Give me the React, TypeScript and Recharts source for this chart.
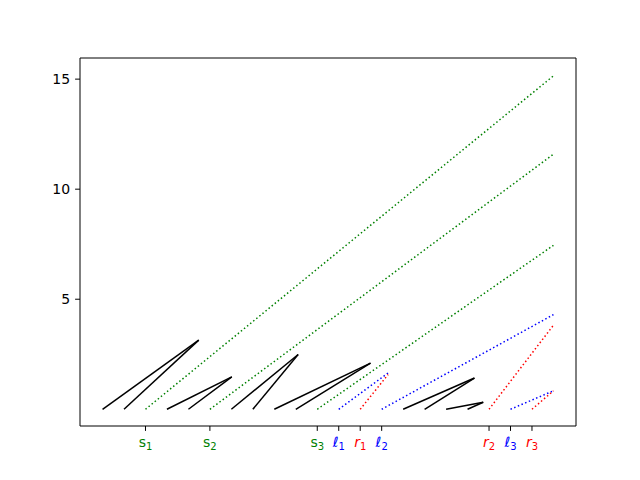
import React from 'react';
import { ComposedChart, Line, XAxis, YAxis, ReferenceLine } from 'recharts';

// black wedges: two starting points on the baseline joined to one apex
const wedgeStarts = [[1, 2], [4, 5], [7, 8], [9, 10], [15, 16], [17, 18]];
const wedgeApexX = [5.48, 7.02, 10.11, 13.48, 18.32, 18.73];
const wedgeApexY = [3.14, 1.47, 2.49, 2.1, 1.42, 0.32];

// dotted rays: start on the baseline, end point
const sStart = [3, 6, 11];
const sEnd = [[22, 15.15], [22, 11.59], [22, 7.45]];
const lStart = [12, 14, 20];
const lEnd = [[14.3, 1.65], [22, 4.3], [22, 0.84]];
const rStart = [13, 19, 21];
const rEnd = [[14.3, 1.58], [22, 3.82], [22, 0.84]];

// x tick labels
const tickValues = [3, 6, 11, 12, 13, 14, 19, 20, 21];
const tickNames = ['s', 's', 's', 'ℓ', 'r', 'ℓ', 'r', 'ℓ', 'r'];
const tickSubs = ['1', '2', '3', '1', '1', '2', '2', '3', '3'];
const yTicks = [5, 10, 15];

const GREEN = '#008000';
const BLUE = '#0000ff';
const RED = '#ff0000';
const FONT = 'DejaVu Sans';
const DOT = '1.5 2.475';

const colorOf = (n: string) => (n === 's' ? GREEN : n === 'ℓ' ? BLUE : RED);

function XTick(props: any) {
  const { x, y, payload } = props;
  const i = tickValues.indexOf(payload.value);
  if (i < 0) return null;
  const name = tickNames[i];
  return (
    <text x={x} y={y} dy={11} textAnchor="middle" fill={colorOf(name)} fontFamily={FONT} fontSize={14}>
      <tspan fontStyle={name === 's' ? 'normal' : 'italic'}>{name}</tspan>
      <tspan fontSize={10} dy={3}>{tickSubs[i]}</tspan>
    </text>
  );
}

type Seg = { key: string; data: { x: number; y: number }[]; color: string; dotted: boolean };

const segs: Seg[] = [];
wedgeStarts.forEach((st, i) => {
  st.forEach((x0, j) => {
    segs.push({
      key: `w${i}-${j}`,
      data: [{ x: x0, y: 0 }, { x: wedgeApexX[i], y: wedgeApexY[i] }],
      color: '#000000',
      dotted: false,
    });
  });
});
sStart.forEach((x0, i) => segs.push({ key: `s${i}`, data: [{ x: x0, y: 0 }, { x: sEnd[i][0], y: sEnd[i][1] }], color: GREEN, dotted: true }));
lStart.forEach((x0, i) => segs.push({ key: `l${i}`, data: [{ x: x0, y: 0 }, { x: lEnd[i][0], y: lEnd[i][1] }], color: BLUE, dotted: true }));
rStart.forEach((x0, i) => segs.push({ key: `r${i}`, data: [{ x: x0, y: 0 }, { x: rEnd[i][0], y: rEnd[i][1] }], color: RED, dotted: true }));

const xDomain = [-0.05, 23.05];
const yDomain = [-0.76, 15.96];

export default function App() {
  return (
    <div style={{ position: 'absolute', left: 0, top: 0, width: 640, height: 480, background: '#fff' }}>
      <ComposedChart width={640} height={480} margin={{ top: 58, right: 64, bottom: 24, left: 40 }}>
        <XAxis
          dataKey="x"
          type="number"
          domain={xDomain}
          ticks={tickValues}
          tick={<XTick />}
          tickSize={4.9}
          tickMargin={4.9}
          tickLine={{ stroke: '#000' }}
          axisLine={{ stroke: '#000' }}
          height={30}
          allowDataOverflow
          interval={0}
        />
        <YAxis
          type="number"
          domain={yDomain}
          ticks={yTicks}
          tickSize={4.9}
          tickMargin={4.9}
          tickLine={{ stroke: '#000' }}
          axisLine={{ stroke: '#000' }}
          tick={{ fill: '#000', fontFamily: FONT, fontSize: 14 }}
          width={40}
          allowDataOverflow
          interval={0}
        />
        <ReferenceLine x={xDomain[1]} stroke="#000" strokeWidth={1} ifOverflow="visible" />
        <ReferenceLine y={yDomain[1]} stroke="#000" strokeWidth={1} ifOverflow="visible" />
        {segs.map(s => (
          <Line
            key={s.key}
            data={s.data}
            dataKey="y"
            type="linear"
            stroke={s.color}
            strokeWidth={1.5}
            strokeDasharray={s.dotted ? DOT : undefined}
            dot={false}
            activeDot={false}
            isAnimationActive={false}
          />
        ))}
      </ComposedChart>
    </div>
  );
}
